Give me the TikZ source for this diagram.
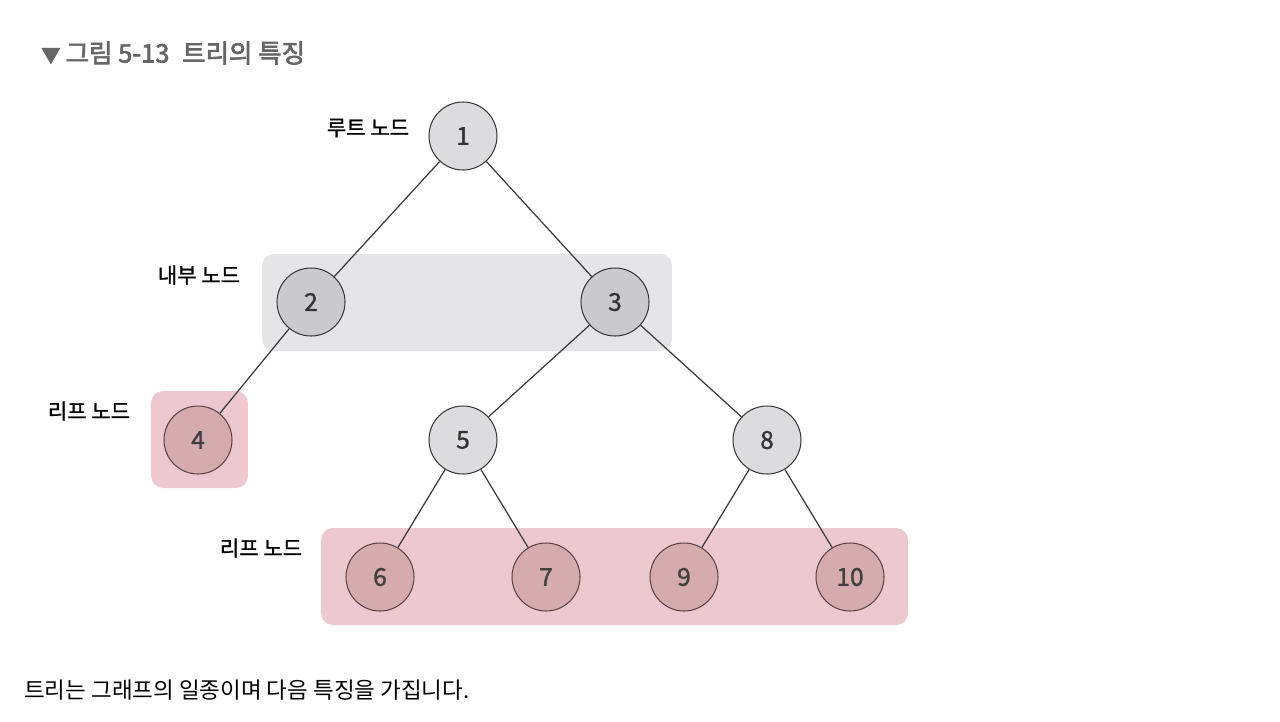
\documentclass[tikz,border=0pt]{standalone}
\usepackage{fontspec}
\setmainfont{Noto Sans CJK KR}
\newfontfamily\kobold[FakeBold=1.2]{Noto Sans CJK KR}
\newfontfamily\kotitle[FakeBold=2.6]{Noto Sans CJK KR}
\usepackage{tikz}
\definecolor{titlegrey}{HTML}{666666}
\definecolor{innerbg}{HTML}{E5E5E7}
\definecolor{leafbg}{HTML}{EDC8D1}
\definecolor{plainfill}{HTML}{DCDCDF}
\definecolor{innerfill}{HTML}{CACACE}
\definecolor{leaffill}{HTML}{D5ABAD}
\definecolor{leafline}{HTML}{5C4446}
\definecolor{edgecol}{HTML}{3A3A3A}
\tikzstyle{treenode} = [circle, minimum size=1.36cm, inner sep=0pt, draw=edgecol, line width=0.6pt, fill=plainfill, font=\kobold\fontsize{14}{14}\selectfont, text=black!80]
\tikzstyle{innernode} = [treenode, fill=innerfill]
\tikzstyle{leafnode} = [treenode, fill=leaffill, draw=leafline, text=black!75]
\tikzstyle{groupbox} = [rectangle, rounded corners=0.24cm, inner sep=0pt, draw=none]
\tikzstyle{tag} = [font=\kobold\fontsize{12}{12}\selectfont, text=black]
\tikzstyle{edge} = [draw=edgecol, line width=0.7pt]

\begin{document}
\begin{tikzpicture}[x=0.02cm, y=-0.02cm]
    \useasboundingbox (0,0) rectangle (1280,721);

    % Group boxes
    \node (innerbox) [groupbox, fill=innerbg, minimum width=8.2cm, minimum height=1.94cm] at (467,302.5) {};
    \node (leafboxa) [groupbox, fill=leafbg, minimum width=1.94cm, minimum height=1.94cm] at (199.5,439.5) {};
    \node (leafboxb) [groupbox, fill=leafbg, minimum width=11.74cm, minimum height=1.94cm] at (614.5,576.5) {};

    % Nodes
    \node (n1) [treenode] at (463,136) {1};
    \node (n2) [innernode] at (311,302) {2};
    \node (n3) [innernode] at (615,302) {3};
    \node (n4) [leafnode] at (198,440) {4};
    \node (n5) [treenode] at (463,440) {5};
    \node (n8) [treenode] at (767,440) {8};
    \node (n6) [leafnode] at (380,577) {6};
    \node (n7) [leafnode] at (546,577) {7};
    \node (n9) [leafnode] at (684,577) {9};
    \node (n10) [leafnode] at (850,577) {10};

    % Edges
    \draw [edge] (n1) -- (n2);
    \draw [edge] (n1) -- (n3);
    \draw [edge] (n2) -- (n4);
    \draw [edge] (n3) -- (n5);
    \draw [edge] (n3) -- (n8);
    \draw [edge] (n5) -- (n6);
    \draw [edge] (n5) -- (n7);
    \draw [edge] (n8) -- (n9);
    \draw [edge] (n8) -- (n10);

    % Labels
    \node (rootlabel) [tag] at (368,128) {루트 노드};
    \node (innerlabel) [tag] at (199,275) {내부 노드};
    \node (leaflabela) [tag] at (89,411) {리프 노드};
    \node (leaflabelb) [tag] at (261,548) {리프 노드};

    % Caption and text
    \node (title) [anchor=west, text=titlegrey, font=\kotitle\fontsize{14.5}{14.5}\selectfont] at (35,53) {{\fontsize{11}{11}\selectfont▼}\hspace{0.2em}그림 5-13\hspace{0.5em}트리의 특징};
    \node (bodytext) [anchor=west, font=\fontsize{12.8}{12.8}\selectfont] at (18,690) {트리는 그래프의 일종이며 다음 특징을 가집니다.};

\end{tikzpicture}
\end{document}
